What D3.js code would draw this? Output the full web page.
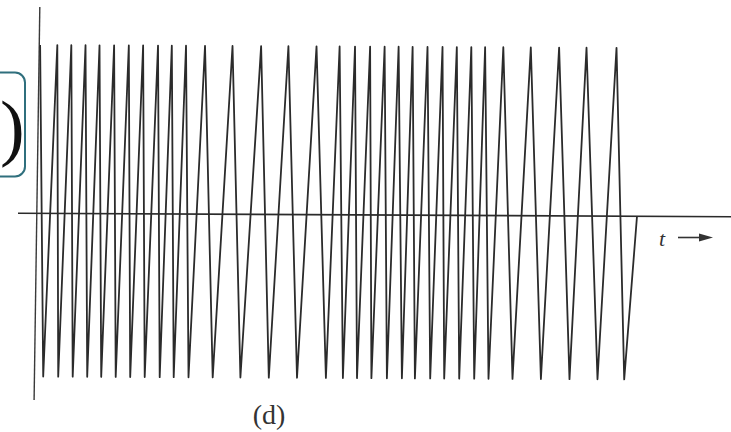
<!DOCTYPE html>
<html>
<head>
<meta charset="utf-8">
<script src="https://cdn.jsdelivr.net/npm/d3@7/dist/d3.min.js"></script>
<style>
  html, body { margin: 0; padding: 0; background: #fff; }
  svg { display: block; }
</style>
</head>
<body>
<svg id="chart" width="731" height="432"></svg>
<script>
// Frequency-modulated triangle wave: times (ms) of each crest and each trough.
const peakTimes = [
  0.08, 1.80, 3.20, 4.62, 6.02, 7.48, 8.95, 10.38, 11.87, 13.25, 14.67,
  16.57, 19.32, 22.18, 24.91, 27.72,
  30.03, 31.57, 33.08, 34.53, 35.93, 37.33, 38.82, 40.32, 41.75, 43.20, 44.58,
  46.40, 49.15, 51.98, 54.72, 57.72
];
const troughTimes = [
  0.55, 2.05, 3.50, 4.95, 6.35, 7.80, 9.25, 10.70, 12.20, 13.60, 15.08,
  17.50, 20.27, 23.11, 25.93, 28.82,
  30.52, 31.93, 33.37, 34.92, 36.42, 37.72, 39.25, 40.65, 42.15, 43.65, 45.08,
  47.48, 50.32, 53.18, 55.98, 58.65
];
const peakLevel = 1.0;
const troughLevel = -0.97;
const endTime = 59.85;            // wave returns to zero here and stops
const timeRange = [-2.05, 69.25]; // extent of the time axis
const axisLabel = "t";
const panelLabel = "(d)";
const sideLabel = ")";

// Interleave crests and troughs into one polyline.
const wave = [];
peakTimes.forEach((t, i) => {
  wave.push({ t: t, v: peakLevel });
  if (i < troughTimes.length) wave.push({ t: troughTimes[i], v: troughLevel });
});
wave.push({ t: endTime, v: 0 });

const svg = d3.select("#chart");

const x = d3.scaleLinear().domain(timeRange).range([18, 731]);
const y = d3.scaleLinear().domain([-1, 1]).range([381.6, 45]);

const ink = "#2b2b2b";

// The whole plot is very slightly rotated, as on the printed page.
const plot = svg.append("g")
  .attr("transform", `rotate(0.28, ${x(0)}, ${y(0)})`);

// Vertical (amplitude) axis
plot.append("line")
  .attr("x1", x(0) + 0.3).attr("y1", 7)
  .attr("x2", x(0) - 3.5).attr("y2", 400)
  .attr("stroke", "#3a3a3a")
  .attr("stroke-width", 1.4);

// Time axis
plot.append("line")
  .attr("x1", x(timeRange[0])).attr("y1", y(0))
  .attr("x2", x(timeRange[1]) + 4).attr("y2", y(0))
  .attr("stroke", ink)
  .attr("stroke-width", 1.6);

// Waveform
const line = d3.line().x(d => x(d.t)).y(d => y(d.v));
plot.append("path")
  .datum(wave)
  .attr("d", line)
  .attr("fill", "none")
  .attr("stroke", ink)
  .attr("stroke-width", 1.8)
  .attr("stroke-linejoin", "round");

// "t →" axis label
const labelG = svg.append("g");
labelG.append("text")
  .attr("x", 659).attr("y", 246)
  .attr("font-family", "'Liberation Serif', 'DejaVu Serif', serif")
  .attr("font-style", "italic")
  .attr("font-size", 22)
  .attr("fill", "#333")
  .text(axisLabel);
labelG.append("line")
  .attr("x1", 678).attr("y1", 237.5)
  .attr("x2", 703).attr("y2", 237.5)
  .attr("stroke", "#333").attr("stroke-width", 1.6);
labelG.append("path")
  .attr("d", d3.line()([[699, 233.5], [713, 237.5], [699, 241.5]]) + "Z")
  .attr("fill", "#333");

// Panel caption
svg.append("text")
  .attr("x", 269).attr("y", 424)
  .attr("text-anchor", "middle")
  .attr("font-family", "'Liberation Serif', 'DejaVu Serif', serif")
  .attr("font-size", 28)
  .attr("fill", "#333")
  .text(panelLabel);

// Boxed label at the left edge
svg.append("rect")
  .attr("x", -20).attr("y", 72.5)
  .attr("width", 45).attr("height", 104)
  .attr("rx", 10).attr("ry", 10)
  .attr("fill", "#fff")
  .attr("stroke", "#2f6f7d")
  .attr("stroke-width", 2);
svg.append("text")
  .attr("x", 0).attr("y", 152)
  .attr("text-anchor", "start")
  .attr("font-family", "'Liberation Serif', 'DejaVu Serif', serif")
  .attr("font-size", 74)
  .attr("fill", "#111")
  .text(sideLabel);
</script>
</body>
</html>
